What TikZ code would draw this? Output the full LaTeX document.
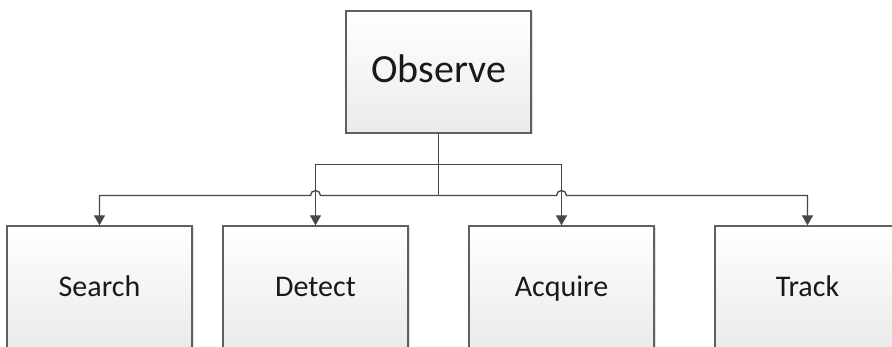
\documentclass[tikz,border=0pt]{standalone}
\usepackage{fontspec}
\setmainfont{Carlito}
\usetikzlibrary{arrows.meta,shadows}
\definecolor{linegray}{HTML}{474747}
\definecolor{boxedge}{HTML}{606060}
\begin{document}
\begin{tikzpicture}[x=1pt, y=1pt, line width=1.3pt]
    \tikzstyle{box}=[rectangle, draw=boxedge, top color=white, bottom color=black!8, minimum width=185pt, minimum height=122pt, inner sep=0pt, drop shadow={shadow xshift=1.5pt, shadow yshift=-1.5pt, opacity=0.25}, text=black!90, font=\fontsize{30}{36}\selectfont, text height=24pt, text depth=4pt]
    \tikzstyle{link}=[draw=linegray, -{Triangle[length=10pt,width=11pt]}]
    \useasboundingbox (0,0) rectangle (892,-347);

    \node[box, font=\fontsize{40}{48}\selectfont, text height=31pt, text depth=9pt] (observe) at (438.5,-72) {Observe};
    \foreach \name/\label/\x in {search/Search/99.5, detect/Detect/315.5, acquire/Acquire/561.5, track/Track/807.5}
    \node[box] (\name) at (\x,-287) {\label};

    \coordinate (upper) at (0,-164.5);
    \coordinate (lower) at (0,-195.5);
    \draw[linegray] (observe.south) -- (observe.south |- lower);
    \foreach \to in {detect, acquire}
    \draw[link] (observe.south |- upper) -| (\to.north);
    % lower bus hops over the two inner drops
    \draw[link] (observe.south |- lower) -- ([xshift=5pt]detect.north |- lower) arc[start angle=0, end angle=180, radius=5pt] -| (search.north);
    \draw[link] (observe.south |- lower) -- ([xshift=-5pt]acquire.north |- lower) arc[start angle=180, end angle=0, radius=5pt] -| (track.north);
\end{tikzpicture}
\end{document}
